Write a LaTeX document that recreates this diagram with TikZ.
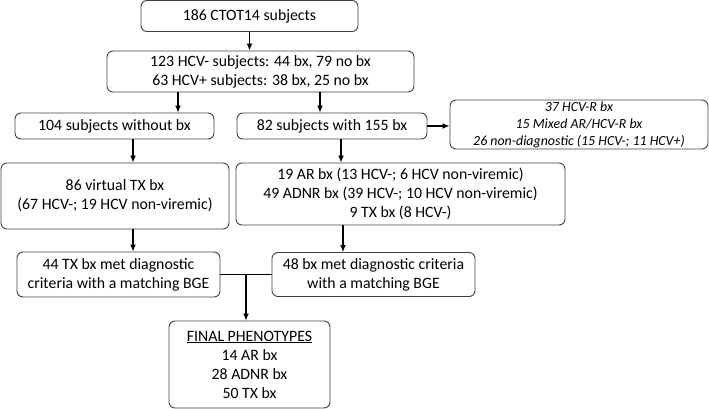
\documentclass[tikz,border=0pt]{standalone}
\usepackage{fontspec}
\setmainfont{Carlito}
\usetikzlibrary{arrows.meta,calc}
\tikzset{
  box/.style={draw=black!75, line width=0.9pt, rounded corners=6pt, align=center,
    inner sep=0pt, font=\fontsize{15.8}{19}\selectfont},
  note/.style={box, font=\fontsize{13.9}{17}\selectfont\itshape},
  arr/.style={-{Latex[length=7pt,width=6pt]}, line width=1.3pt},
}
\begin{document}
\begin{tikzpicture}[x=1pt,y=1pt]
			\useasboundingbox (0,0) rectangle (709,-409);
			\node[box,minimum width=217pt,minimum height=31pt] (1) at (249.5,-16) {186 CTOT14 subjects};
			\node[box,minimum width=307pt,minimum height=41pt] (2) at (260.5,-71.5)
			     {123 HCV- subjects: 44 bx, 79 no bx\\63 HCV+ subjects: 38 bx, 25 no bx};
			\node[box,minimum width=199pt,minimum height=26pt] (3) at (114.5,-126) {104 subjects without bx};
			\node[box,minimum width=190pt,minimum height=26pt] (4) at (332,-126) {82 subjects with 155 bx};
			\node[note,minimum width=258pt,minimum height=49pt] (5) at (579,-124.5)
			     {37 HCV-R bx\\15 Mixed AR/HCV-R bx\\26 non-diagnostic (15 HCV-; 11 HCV+)};
			\node[box,minimum width=228pt,minimum height=66pt] (6) at (115,-196)
			     {86 virtual TX bx\\(67 HCV-; 19 HCV non-viremic)};
			\node[box,minimum width=329pt,minimum height=62pt] (7) at (400.5,-194)
			     {19 AR bx (13 HCV-; 6 HCV non-viremic)\\49 ADNR bx (39 HCV-; 10 HCV non-viremic)\\9 TX bx (8 HCV-)};
			\node[box,minimum width=203pt,minimum height=45pt] (8) at (118.5,-274.5)
			     {44 TX bx met diagnostic\\criteria with a matching BGE};
			\node[box,minimum width=203pt,minimum height=44pt] (9) at (373.5,-274.5)
			     {48 bx met diagnostic criteria\\with a matching BGE};
			\node[box,minimum width=161pt,minimum height=87pt] (10) at (249.5,-364.5)
			     {\underline{FINAL PHENOTYPES}\\14 AR bx\\28 ADNR bx\\50 TX bx};
			\coordinate (m) at ($(8.east)!0.5!(9.west)$);
			\draw[arr] (1.south) -- (1.south |- 2.north);
			\draw[arr] ([xshift=63.5pt]3.north |- 2.south) -- ([xshift=63.5pt]3.north);
			\draw[arr] ([xshift=-12pt]4.north |- 2.south) -- ([xshift=-12pt]4.north);
			\draw[arr] (4.east) -- (5.west |- 4.east);
			\draw[arr] ([xshift=18.5pt]3.south) -- ([xshift=18.5pt]3.south |- 6.north);
			\draw[arr] ([xshift=9pt]4.south) -- ([xshift=9pt]4.south |- 7.north);
			\draw[arr] ([xshift=18pt]6.south) -- ([xshift=18pt]6.south |- 8.north);
			\draw[arr] ([xshift=-57.5pt]7.south) -- ([xshift=-57.5pt]7.south |- 9.north);
			\draw[line width=1.3pt] (8.east) -- (9.west);
			\draw[arr] (m) -- (m |- 10.north);
		\end{tikzpicture}
\end{document}
